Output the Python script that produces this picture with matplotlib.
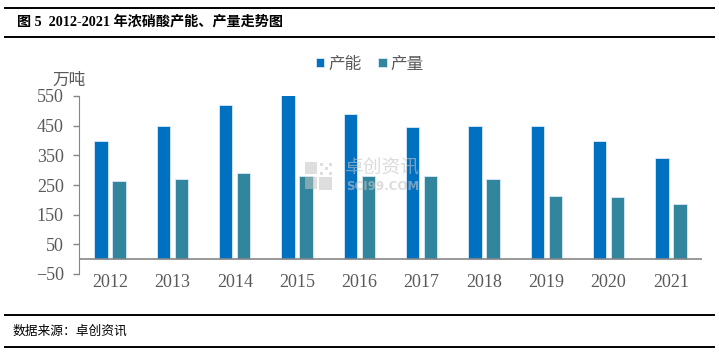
import matplotlib
matplotlib.use("Agg")
import matplotlib.pyplot as plt
from matplotlib.lines import Line2D
from matplotlib.patches import Rectangle
import numpy as np

years = ["2012", "2013", "2014", "2015", "2016", "2017", "2018", "2019", "2020", "2021"]
capacity = [400, 450, 520, 553, 490, 445, 450, 448, 398, 340]   # 产能, 万吨
output = [265, 270, 290, 280, 282, 280, 270, 213, 208, 185]     # 产量, 万吨
yticks = [-50, 50, 150, 250, 350, 450, 550]

BLUE = "#0070C0"
TEAL = "#31859C"
GRAY = "#595959"
SERIF = ["Liberation Serif", "Noto Sans CJK SC"]
CJK = ["Noto Sans CJK SC", "DejaVu Sans"]

W, H = 719, 353
fig = plt.figure(figsize=(W / 100, H / 100), dpi=100)
ax = fig.add_axes([79 / W, 1 - 274 / H, (702 - 79) / W, (274 - 96) / H])

x = np.arange(len(years))
bw = 0.215
off = 0.145
ax.bar(x - off, capacity, bw, color=BLUE, edgecolor="#dbe9f6", linewidth=0.6, label="产能")
ax.bar(x + off, output, bw, color=TEAL, edgecolor="#dbe9f6", linewidth=0.6, label="产量")

ax.set_xlim(-0.5, len(years) - 0.5)
ax.set_ylim(-50, 550)
ax.set_yticks(yticks)
ax.set_yticklabels([str(v).replace("-", "\u2212") for v in yticks],
                   family=SERIF, fontsize=13, color=GRAY)
ax.set_xticks(x)
ax.set_xticklabels(years, family=SERIF, fontsize=13, color=GRAY)
ax.tick_params(axis="x", length=0, pad=0)
ax.tick_params(axis="y", direction="out", length=4, width=1, color="#868686", pad=7)
for s in ("top", "right", "bottom"):
    ax.spines[s].set_visible(False)
ax.spines["left"].set_color("#868686")
ax.axhline(0, color="#868686", lw=1.2)

ax.legend(loc="center", bbox_to_anchor=(0.467, 1 + (96 - 64) / 178), ncol=2, frameon=False,
          prop={"family": CJK, "size": 12}, labelcolor=GRAY,
          handlelength=0.5, handleheight=0.5, handletextpad=0.25, columnspacing=1.0,
          borderaxespad=0, borderpad=0)

fig.text(69 / W, 1 - 80 / H, "万吨", family=CJK, fontsize=12, color=GRAY,
         ha="center", va="center")

# watermark: logo squares + name
wm = "#c4c4c4"
for (lx, ly, s) in [(305, 162, 12), (305, 177, 12), (319, 177, 13)]:
    fig.add_artist(Rectangle((lx / W, 1 - (ly + s) / H), s / W, s / H,
                             transform=fig.transFigure, color=wm, alpha=0.55, lw=0))
for i in range(3):
    for j in range(3):
        if (i + j) % 2 == 0:
            fig.add_artist(Rectangle(((320 + 4.5 * i) / W, 1 - (166 + 4.5 * j) / H), 3 / W, 3 / H,
                                     transform=fig.transFigure, color=wm, alpha=0.55, lw=0))
fig.text(382 / W, 1 - 168 / H, "卓创资讯", family=CJK, fontsize=13.5, color=wm,
         ha="center", va="center", alpha=0.6)
fig.text(383 / W, 1 - 186 / H, "SCI99.COM", family="DejaVu Sans", fontsize=8.5, color=wm,
         ha="center", va="center", alpha=0.6, weight="bold")

# report frame: rules, caption, source
for yy in (8, 36.5, 315, 347):
    fig.add_artist(Line2D([5 / W, 714 / W], [1 - yy / H] * 2, color="black", lw=1.4))
fig.text(17 / W, 1 - 22 / H, "图 5  2012-2021 年浓硝酸产能、产量走势图", family=SERIF,
         fontsize=10.2, weight="bold", color="black", ha="left", va="center")
fig.text(13 / W, 1 - 331 / H, "数据来源：卓创资讯", family=CJK, fontsize=9.2,
         color="black", ha="left", va="center")

fig.savefig("out.png", dpi=100)
